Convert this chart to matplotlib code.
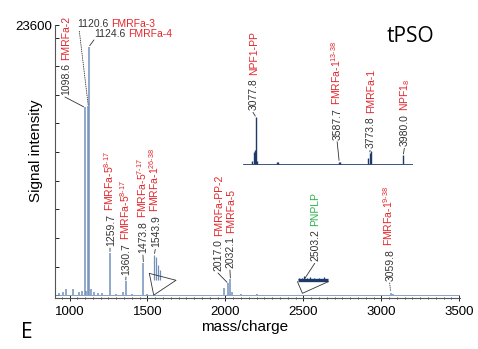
import matplotlib
matplotlib.use("Agg")
import matplotlib.pyplot as plt
import numpy as np

plt.rcParams['font.family'] = ['Liberation Sans', 'DejaVu Sans']
plt.rcParams['mathtext.fontset'] = 'custom'
plt.rcParams['mathtext.rm'] = 'Liberation Sans'
plt.rcParams['mathtext.it'] = 'Liberation Sans'

# main spectrum sticks (m/z, intensity)
main_mz = [935, 960, 980, 1020, 1060, 1080, 1098.6, 1108, 1120.6, 1124.6, 1140, 1160,
           1180, 1210, 1259.7, 1300, 1345, 1360.7, 1400, 1473.8, 1500, 1990, 2017.0,
           2032.1, 2045, 2100, 2200, 3059.8, 3075]
main_int = [150, 250, 500, 550, 250, 350, 16400, 400, 16500, 21700, 500, 300,
            200, 150, 3700, 120, 250, 1200, 100, 2800, 100, 600, 1030,
            1380, 300, 100, 80, 220, 100]

# magnified clusters drawn above the baseline
zoom1_mz = [1543.9, 1555, 1568, 1583]
zoom1_int = [2200, 2000, 1300, 900]
zoom2_mz = [2470, 2490, 2503.2, 2525, 2545, 2570, 2600, 2630, 2650]
zoom2_int = [150, 200, 350, 150, 250, 200, 150, 250, 100]

# inset spectrum (3000-4040)
ins_mz = [3051, 3065, 3072, 3077.8, 3085, 3205, 3215, 3587.7, 3595, 3765, 3773.8, 3782, 3980.0]
ins_int = [3, 12, 14, 47, 3, 2, 2, 2.5, 2, 6, 11, 13, 9]

RED = '#e3262b'
GREY = '#333333'
LINE = '#7391bb'
NAVY = '#1e3a6b'
FS = 7.5
BO = 0.36 * FS  # shift so the glyphs sit centred on the anchor

fig = plt.figure(figsize=(4.78, 3.49), dpi=100)
ax = fig.add_axes([0.1151, 0.1461, 0.8473, 0.7822])

ax.vlines(main_mz, 0, main_int, color=LINE, lw=1.1)
ax.axhline(0, color=LINE, lw=0.6)

# magnified cluster near 1543.9
b1 = 1320
ax.vlines(zoom1_mz, b1, [b1 + v for v in zoom1_int], color=LINE, lw=0.9)
ax.plot([1512, 1683, 1540, 1512], [1900, 1300, 0, 1900], color=GREY, lw=0.6)

# magnified cluster near 2503.2
b2 = 1330
ax.plot([2465, 2655], [b2, b2], color=NAVY, lw=2.4, solid_capstyle='butt')
ax.vlines(zoom2_mz, b2, [b2 + v for v in zoom2_int], color=NAVY, lw=0.9)
ax.plot([2462, 2494, 2660], [b2 - 150, 160, b2 - 150], color=GREY, lw=0.6)

ax.set_xlim(907, 3505)
ax.set_ylim(-250, 23600)
for s in ['top', 'right']:
    ax.spines[s].set_visible(False)
for s in ['left', 'bottom']:
    ax.spines[s].set_color('#555555')
    ax.spines[s].set_linewidth(0.8)

ax.set_xticks([1000, 1500, 2000, 2500, 3000, 3500])
ax.set_xticks(np.arange(950, 3501, 50), minor=True)
yt = list(range(0, 23600, 2500)) + [23600]
ax.set_yticks(yt)
ax.set_yticklabels([''] * (len(yt) - 1) + ['23600'])
ax.tick_params(axis='x', direction='inout', length=4, width=0.6, labelsize=9.5, pad=4)
ax.tick_params(axis='x', which='minor', direction='inout', length=2, width=0.5)
ax.tick_params(axis='y', direction='in', length=3, width=0.6, labelsize=9.5, pad=2)

ax.set_ylabel('Signal intensity', fontsize=11)
ax.yaxis.set_label_coords(-0.03, 0.54)
ax.set_xlabel('mass/charge', fontsize=11)
ax.xaxis.set_label_coords(0.469, -0.08)


def leader(a, mz, top, lx, ly, ls='-'):
    a.annotate('', xy=(mz, top), xytext=(lx, ly), annotation_clip=False,
               arrowprops=dict(arrowstyle='-', lw=0.6, color=GREY, linestyle=ls,
                               shrinkA=0, shrinkB=1))


def vlabel(a, mz, top, tx, ty, num, name, color=RED, ls='-'):
    leader(a, mz, top, tx, ty, ls)
    t = a.annotate(num, xy=(tx, ty), xytext=(BO, 1.5), textcoords='offset points',
                   rotation=90, rotation_mode='anchor', ha='left', va='baseline',
                   fontsize=FS, color=GREY, annotation_clip=False)
    a.annotate(name, xy=(tx, 1), xycoords=('data', t), xytext=(BO, 2.2),
               textcoords='offset points', rotation=90, rotation_mode='anchor',
               ha='left', va='baseline', fontsize=FS, color=color,
               annotation_clip=False)


def hlabel(a, mz, top, tx, ty, lx, ly, num, name, ls='-'):
    leader(a, mz, top, lx, ly, ls)
    t = a.annotate(num, xy=(tx, ty), ha='left', va='center', fontsize=FS, color=GREY,
                   annotation_clip=False)
    a.annotate(name, xy=(1, 0), xycoords=t, xytext=(2.2, 0), textcoords='offset points',
               ha='left', va='bottom', fontsize=FS, color=RED, annotation_clip=False)


vlabel(ax, 1098.6, 16400, 971, 17310, '1098.6', 'FMRFa-2')
hlabel(ax, 1120.6, 16500, 1048, 23686, 1063, 23050, '1120.6', 'FMRFa-3', ls=':')
hlabel(ax, 1124.6, 21700, 1157, 22813, 1157, 22300, '1124.6', 'FMRFa-4')
vlabel(ax, 1259.7, 3700, 1259.7, 4118, '1259.7', r'FMRFa-5$^{8\text{-}17}$')
vlabel(ax, 1360.7, 1200, 1362, 1585, '1360.7', r'FMRFa-5$^{8\text{-}17}$')
vlabel(ax, 1473.8, 2800, 1471, 3506, '1473.8', r'FMRFa-5$^{7\text{-}17}$')
vlabel(ax, 1543.9, b1 + 2200, 1550, 4000, '1543.9', r'FMRFa-1$^{26\text{-}38}$')
vlabel(ax, 2017.0, 1030, 1952, 1934, '2017.0', 'FMRFa-PP-2')
vlabel(ax, 2032.1, 1380, 2029, 2196, '2032.1', 'FMRFa-5')
vlabel(ax, 2503.2, b2, 2573, 2780, '2503.2', 'PNPLP', color='#2bb24c')
vlabel(ax, 3059.8, 220, 3054, 1060, '3059.8', r'FMRFa-1$^{9\text{-}38}$', ls=':')

# inset
axi = fig.add_axes([0.5084, 0.5264, 0.3556, 0.1461])
axi.patch.set_alpha(0)
axi.vlines(ins_mz, 0, ins_int, color=NAVY, lw=1.0)
axi.axhline(0, color=NAVY, lw=0.6)
axi.set_xlim(2998, 4040)
axi.set_ylim(-1, 50)
axi.axis('off')

vlabel(axi, 3077.8, 47, 3059, 52, '3077.8', 'NPF1-PP')
vlabel(axi, 3587.7, 2.5, 3575, 22.6, '3587.7', r'FMRFa-1$^{13\text{-}38}$')
vlabel(axi, 3773.8, 11, 3777, 14, '3773.8', 'FMRFa-1')
vlabel(axi, 3980.0, 9, 3987, 16, '3980.0', r'NPF1$_{8}$')

fig.text(410 / 478, 1 - 37 / 349, 'tPSO', fontsize=15, family='Open Sans',
         ha='center', va='center')
fig.text(27 / 478, 1 - 333 / 349, 'E', fontsize=15, family='Open Sans',
         ha='center', va='center')

fig.savefig('out.png', dpi=100)
